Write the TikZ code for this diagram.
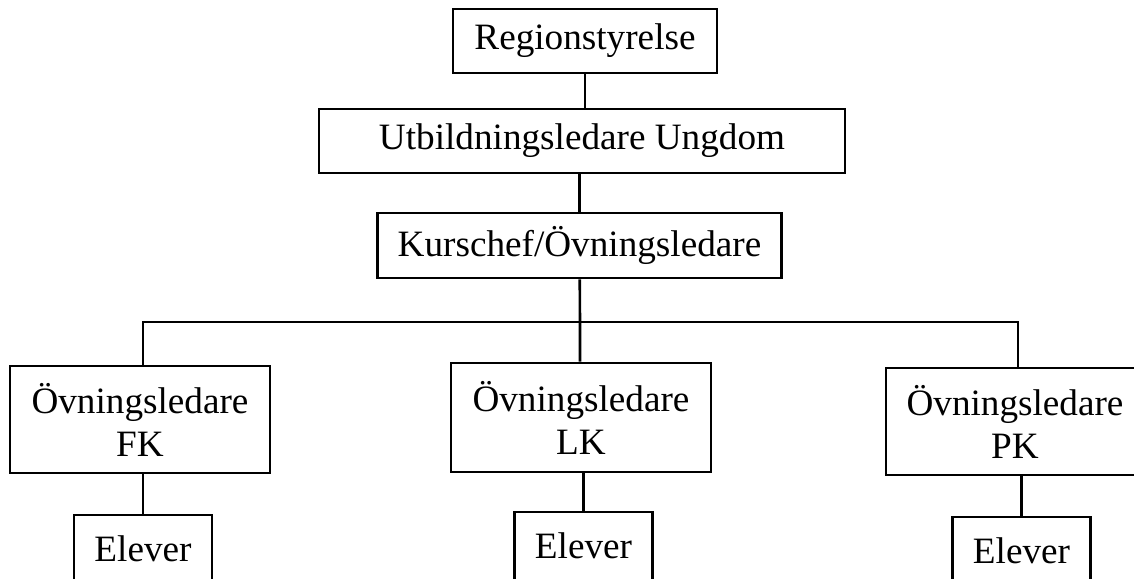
\documentclass[tikz,border=0pt]{standalone}
\usepackage{fontspec}
\setmainfont{Liberation Serif}
\tikzset{box/.style={draw,line width=1.3pt,inner sep=0pt,align=center,font=\fontsize{18.6}{21.5}\selectfont}}

\begin{document}
\begin{tikzpicture}[x=0.5pt,y=-0.5pt,line width=1.3pt]
        \path[use as bounding box,clip] (0,0) rectangle (1134,578);
        \node[box,minimum width=132pt,minimum height=32pt] (region) at (585,41) {Regionstyrelse};
        \node[box,minimum width=263pt,minimum height=32pt] (utb) at (582,141) {Utbildningsledare Ungdom};
        \node[box,minimum width=202pt,minimum height=32.5pt] (kurs) at (579.5,245.5) {Kurschef/Övningsledare};
        \node[box,minimum width=130pt,minimum height=53.5pt] (fk) at (140,419.5) {Övningsledare\\FK};
        \node[box,minimum width=130pt,minimum height=54.5pt] (lk) at (581,417.5) {Övningsledare\\LK};
        \node[box,minimum width=129pt,minimum height=53.5pt] (pk) at (1015,421.5) {Övningsledare\\PK};
        \node[box,minimum width=69pt,minimum height=34pt] (efk) at (143,549) {Elever};
        \node[box,minimum width=69pt,minimum height=34pt] (elk) at (583.5,546) {Elever};
        \node[box,minimum width=69pt,minimum height=34pt] (epk) at (1021.5,551) {Elever};
        \coordinate (bus) at (580,322);
        \draw (region) -- (region |- utb.north);
        \draw (utb.south -| kurs) -- (kurs);
        \draw (kurs) -- (bus) -- (bus |- lk.north);
        \draw (fk.north -| 143,0) |- (bus) -| (1018,0 |- pk.north);
        \draw (fk.south -| efk) -- (efk);
        \draw (lk.south -| elk) -- (elk);
        \draw (pk.south -| epk) -- (epk);
    \end{tikzpicture}
\end{document}
